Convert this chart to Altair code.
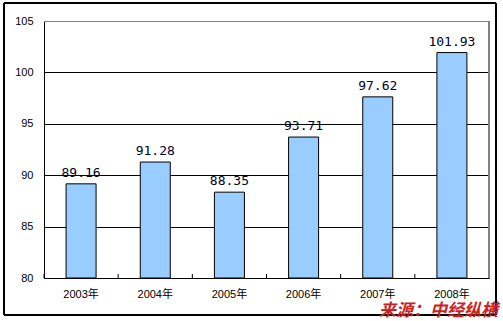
import altair as alt
import pandas as pd

years = ["2003年", "2004年", "2005年", "2006年", "2007年", "2008年"]
values = [89.16, 91.28, 88.35, 93.71, 97.62, 101.93]
labels = ["89.16", "91.28", "88.35", "93.71", "97.62", "101.93"]
y_ticks = [80, 85, 90, 95, 100, 105]
y_min, y_max = 80, 105
source_text = "来源：中经纵横"

df = pd.DataFrame({"year": years, "value": values, "label": labels})

W, H = 445, 257

x_enc = alt.X("year:N", sort=years, title=None,
              scale=alt.Scale(paddingInner=0, paddingOuter=0),
              axis=alt.Axis(labelAngle=0, tickSize=0, labelPadding=10,
                            labelFont="Liberation Sans, Noto Sans CJK SC",
                            labelFontSize=11, labelColor="#000000",
                            domainColor="#000000", domainWidth=1))
y_enc = alt.Y("value:Q", title=None,
              scale=alt.Scale(domain=[y_min, y_max], nice=False, zero=False),
              axis=alt.Axis(values=y_ticks, grid=True, gridColor="#000000",
                            gridWidth=1, tickSize=0, labelPadding=11,
                            labelFont="Liberation Sans", labelFontSize=11,
                            labelColor="#000000", domainColor="#000000",
                            domainWidth=1))

base = alt.Chart(df)

bars = base.mark_bar(size=30, fill="#99CCFF", stroke="#000000",
                     strokeWidth=1).encode(x=x_enc, y=y_enc, y2=alt.datum(y_min))

texts = base.mark_text(baseline="bottom", dy=-4, font="DejaVu Sans Mono",
                       fontSize=13, color="#000020").encode(
    x=alt.X("year:N", sort=years), y="value:Q", text="label:N")

xticks = base.mark_rule(color="#000000", strokeWidth=1).encode(
    x=alt.X("year:N", sort=years, bandPosition=0),
    y=alt.value(H - 4), y2=alt.value(H))

top_border = base.mark_rule(color="#808080", strokeWidth=1).encode(
    x=alt.value(0), x2=alt.value(W), y=alt.value(0.5))
right_border = base.mark_rule(color="#808080", strokeWidth=1).encode(
    x=alt.value(W), y=alt.value(0), y2=alt.value(H))

outer_top = base.mark_rule(color="#000000", strokeWidth=1.5).encode(
    x=alt.value(-40), x2=alt.value(452), y=alt.value(-18))
outer_bottom = base.mark_rule(color="#000000", strokeWidth=1.5).encode(
    x=alt.value(-40), x2=alt.value(452), y=alt.value(294))
outer_left = base.mark_rule(color="#000000", strokeWidth=1.5).encode(
    x=alt.value(-40), y=alt.value(-18), y2=alt.value(294))
outer_right = base.mark_rule(color="#000000", strokeWidth=1.5).encode(
    x=alt.value(452), y=alt.value(-18), y2=alt.value(294))

source = alt.Chart(pd.DataFrame({"t": [source_text]})).mark_text(
    align="right", baseline="middle", font="Noto Sans CJK SC",
    fontSize=17, fontWeight="bold", fontStyle="italic",
    color="#CC2222").encode(
    x=alt.value(454), y=alt.value(290), text="t:N")

chart = alt.layer(bars, texts, xticks, top_border, right_border,
                  outer_top, outer_bottom, outer_left, outer_right,
                  source).properties(
    width=W, height=H,
    autosize=alt.AutoSizeParams(type="none"),
    padding={"left": 44, "top": 21, "right": 14, "bottom": 43},
    background="#FFFFFF",
).configure_view(stroke=None)

chart.save("out.html", embed_options={"renderer": "svg", "actions": False})
